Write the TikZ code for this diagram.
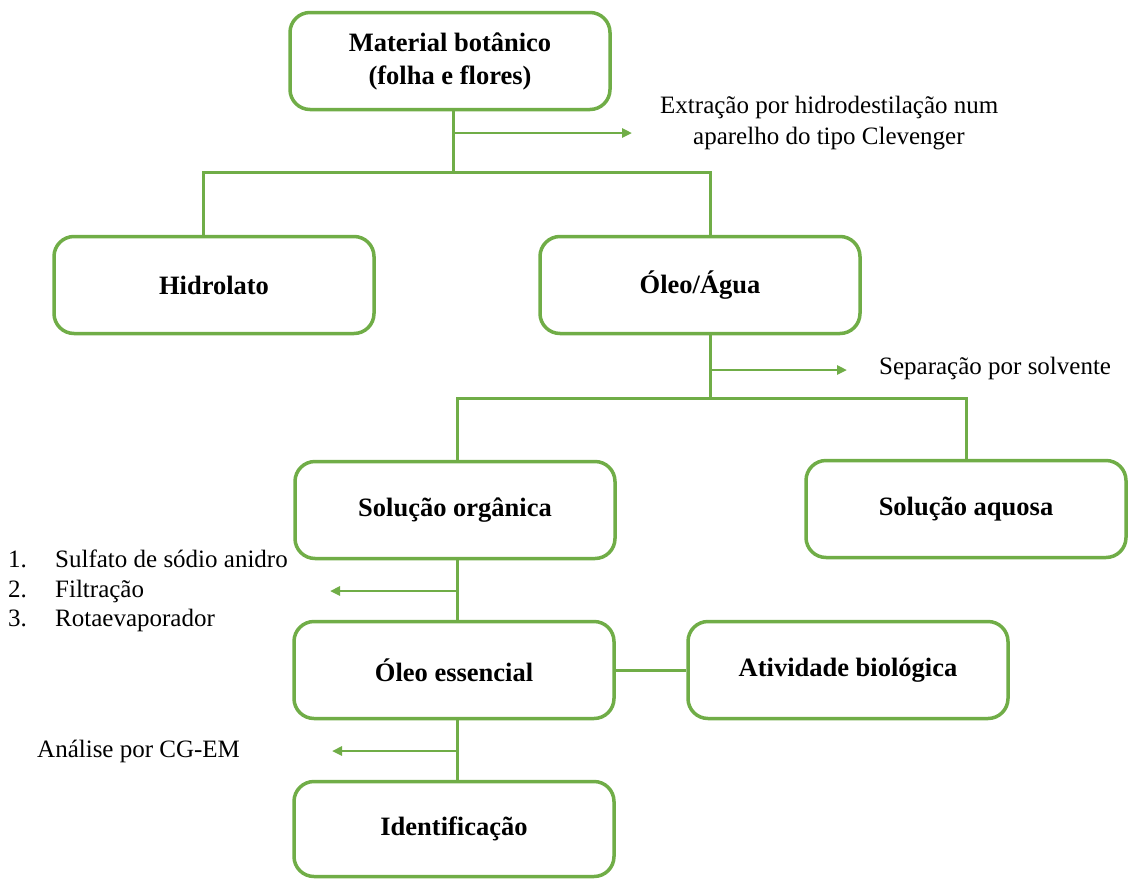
\documentclass[tikz,border=0pt]{standalone}
\usepackage{fontspec}
\setmainfont{Liberation Serif}
\usetikzlibrary{arrows.meta}
\definecolor{gr}{HTML}{70AD47}
\tikzset{
  box/.style={draw=gr, line width=3.5pt, rounded corners=20pt, fill=white,
    minimum width=320pt, minimum height=97pt, inner sep=0pt,
    font=\fontsize{26.5}{33}\selectfont\bfseries, align=center},
  conn/.style={draw=gr, line width=3pt},
  arr/.style={draw=gr, line width=2.6pt, -{Triangle[length=10pt,width=9pt]}},
  lbl/.style={font=\fontsize{25}{31}\selectfont, inner sep=0pt, align=left}
}
\begin{document}
\begin{tikzpicture}[x=1pt,y=-1pt]
\useasboundingbox (0,0) rectangle (1128,879);
\node[box] (mat) at (450,61) {\rule{0pt}{0pt}Material botânico\\(folha e flores)\rule[-5pt]{0pt}{0pt}};
\node[box] (hid) at (214,285) {Hidrolato};
\node[box] (oa) at (700,285) {Óleo/Água};
\node[box] (so) at (455,510) {Solução orgânica};
\node[box] (sa) at (966,509) {Solução aquosa};
\node[box] (oe) at (454,670) {Óleo essencial};
\node[box] (ab) at (848,670) {\raisebox{-3pt}{Atividade biológica}};
\node[box, minimum height=95pt] (id) at (454,829) {Identificação};

\node[lbl, anchor=west] (t1) at (660,123) {Extração por hidrodestilação num\\\hspace*{33pt}aparelho do tipo Clevenger};
\node[lbl, anchor=west] (t2) at (879,368) {Separação por solvente};
\node[lbl, anchor=west, font=\fontsize{25}{29.5}\selectfont] (t3) at (8,591) {\makebox[47pt][l]{1.}Sulfato de sódio anidro\\\makebox[47pt][l]{2.}Filtração\\\makebox[47pt][l]{3.}Rotaevaporador};
\node[lbl, anchor=west] (t4) at (37,751) {Análise por CG-EM};

\coordinate (j1) at (453,172);
\coordinate (a1) at (453,133);
\coordinate (e1) at (632,133);
\draw[conn] ([xshift=3pt]mat.south) -- (j1);
\draw[conn] ([xshift=-11pt]hid.north) |- (j1) -| ([xshift=10pt]oa.north);
\draw[arr] (a1) -- (e1);

\coordinate (j2) at (710,398);
\coordinate (a2) at (710,370);
\coordinate (e2) at (847,370);
\draw[conn] ([xshift=10pt]oa.south) -- (j2);
\draw[conn] ([xshift=2pt]so.north) |- (j2) -| (sa.north);
\draw[arr] (a2) -- (e2);

\coordinate (a3) at (457,591);
\coordinate (e3) at (330,591);
\draw[conn] ([xshift=2pt]so.south) -- ([xshift=3pt]oe.north);
\draw[arr] (a3) -- (e3);

\draw[conn] (oe.east) -- (ab.west);

\coordinate (a4) at (457,751);
\coordinate (e4) at (332,751);
\draw[conn] ([xshift=3pt]oe.south) -- ([xshift=3pt]id.north);
\draw[arr] (a4) -- (e4);
\end{tikzpicture}
\end{document}
